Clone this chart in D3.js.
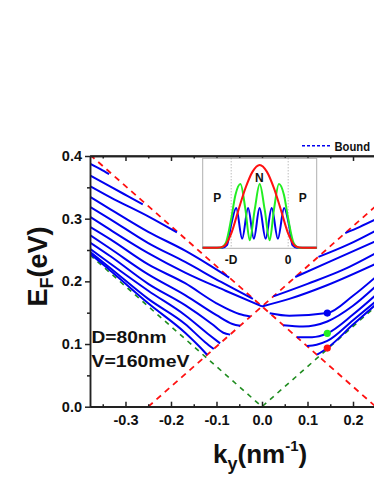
<!DOCTYPE html>
<html>
<head>
<meta charset="utf-8">
<script src="https://cdn.jsdelivr.net/npm/d3@7"></script>
<style>
body{margin:0;background:#fff;overflow:hidden;}
text{font-family:Arial,"Liberation Sans",sans-serif;}
</style>
</head>
<body>
<script>
// axis ticks (only the part of the frame that is in view)
var xTicks = [-0.3, -0.2, -0.1, 0.0, 0.1, 0.2];
var xMinor = [-0.35, -0.25, -0.15, -0.05, 0.05, 0.15, 0.25];
var yTicks = [0.0, 0.1, 0.2, 0.3, 0.4];
var yMinor = [0.05, 0.15, 0.25, 0.35];

// bound states, k<0 side  [ky, EF]
var boundLeft = [
	[[-0.378,0.388],[-0.355,0.379],[-0.336,0.371]],
	[[-0.378,0.369],[-0.333,0.351],[-0.295,0.336],[-0.262,0.323]],
	[[-0.378,0.352],[-0.333,0.334],[-0.246,0.302],[-0.187,0.278]],
	[[-0.378,0.335],[-0.333,0.315],[-0.25,0.279],[-0.169,0.249],[-0.12,0.228],[-0.072,0.206]],
	[[-0.378,0.319],[-0.333,0.299],[-0.25,0.261],[-0.169,0.231],[-0.09,0.199],[-0.02,0.172]],
	[[-0.378,0.303],[-0.333,0.282],[-0.25,0.245],[-0.169,0.214],[-0.08,0.185],[0,0.16]],
	[[-0.378,0.287],[-0.333,0.267],[-0.25,0.227],[-0.169,0.197],[-0.1,0.165],[-0.05,0.148],[-0.026,0.144]],
	[[-0.378,0.274],[-0.333,0.252],[-0.25,0.211],[-0.169,0.178],[-0.1,0.146],[-0.065,0.132],[-0.048,0.129]],
	[[-0.378,0.262],[-0.333,0.240],[-0.25,0.196],[-0.169,0.162],[-0.11,0.132],[-0.085,0.118],[-0.07,0.115]],
	[[-0.378,0.252],[-0.333,0.228],[-0.25,0.185],[-0.169,0.146],[-0.115,0.114],[-0.092,0.101]],
	[[-0.378,0.247],[-0.333,0.221],[-0.25,0.172],[-0.169,0.132],[-0.125,0.103],[-0.106,0.092]],
	[[-0.378,0.244],[-0.333,0.217],[-0.25,0.165],[-0.169,0.118],[-0.135,0.094],[-0.121,0.083]]
];

// bound states, k>0 side
var boundRight = [
	[[0.183,0.277],[0.215,0.287],[0.25,0.299]],
	[[0.124,0.239],[0.19,0.259],[0.25,0.281]],
	[[0.073,0.207],[0.15,0.232],[0.25,0.264]],
	[[0.025,0.176],[0.1,0.196],[0.18,0.219],[0.25,0.245]],
	[[0,0.16],[0.06,0.172],[0.14,0.193],[0.25,0.228]],
	[[0.017,0.149],[0.06,0.145],[0.1435,0.1494],[0.2,0.177],[0.25,0.207]],
	[[0.047,0.130],[0.09,0.128],[0.1435,0.136],[0.2,0.161],[0.25,0.192]],
	[[0.077,0.111],[0.11,0.111],[0.1435,0.117],[0.2,0.147],[0.25,0.178]],
	[[0.099,0.097],[0.12,0.099],[0.1435,0.105],[0.2,0.138],[0.25,0.168]],
	[[0.121,0.083],[0.1435,0.0936],[0.2,0.131],[0.25,0.163]]
];

// continuum edges
var redEdges = [
	[[-0.378,0.402],[0.25,0]],
	[[-0.25,0],[0.378,0.402]]
];
var greenEdge = [[-0.378,0.242],[0,0],[0.378,0.242]];

// marked states at ky = 0.1435
var markK = [0.1435, 0.1435, 0.1435];
var markE = [0.1494, 0.117, 0.0936];

// inset: |psi|^2 across the junction, x in nm
var waveBlue = [[-120,0],[-92,0],[-86,0.03],[-80,0.28],[-73,0.48],[-64.6,0.11],[-56.3,0.48],[-48.2,0.11],[-40.2,0.48],
	[-31.7,0.11],[-23.2,0.48],[-14.5,0.11],[-5.7,0.48],[1,0.28],[6,0.03],[12,0],[40,0]];
var waveGreen = [[-120,0],[-95,0],[-88,0.05],[-80,0.35],[-74,0.64],[-67,0.77],[-60,0.46],[-54,0.09],[-47,0.46],
	[-40,0.77],[-33,0.46],[-26,0.09],[-20,0.46],[-13,0.77],[-6,0.64],[0,0.35],[8,0.05],[15,0],[40,0]];
var waveRed = [[-120,0],[-100,0],[-90,0.02],[-80,0.17],[-70,0.45],[-60,0.72],[-50,0.92],[-40,1.0],
	[-30,0.92],[-20,0.72],[-10,0.45],[0,0.17],[10,0.02],[20,0],[40,0]];

var W = 374, H = 484;
var fmt = d3.formatLocale({decimal:'.', thousands:',', grouping:[3], currency:['',''], minus:'-'}).format('.1f');

var svg = d3.select('body').append('svg')
	.attr('width', W)
	.attr('height', H)
	.style('background', '#fff');

var x = d3.scaleLinear().domain([-0.378, 0.378]).range([90, 434]);
var y = d3.scaleLinear().domain([0, 0.4]).range([406.7, 156]);

svg.append('clipPath').attr('id', 'plotclip')
	.append('rect').attr('x', 90).attr('y', 156).attr('width', 344).attr('height', 250.7);

var plot = svg.append('g').attr('clip-path', 'url(#plotclip)');

var line = d3.line()
	.x(function(d){ return x(d[0]); })
	.y(function(d){ return y(d[1]); });
var smooth = d3.line()
	.x(function(d){ return x(d[0]); })
	.y(function(d){ return y(d[1]); })
	.curve(d3.curveMonotoneX);

plot.append('path')
	.attr('d', line(greenEdge))
	.attr('fill', 'none')
	.attr('stroke', '#1f8c1f')
	.attr('stroke-width', 1.6)
	.attr('stroke-dasharray', '5,5');

plot.selectAll('path.red')
	.data(redEdges)
	.enter()
	.append('path')
	.attr('class', 'red')
	.attr('d', line)
	.attr('fill', 'none')
	.attr('stroke', '#ff1010')
	.attr('stroke-width', 1.8)
	.attr('stroke-dasharray', '6,5');

plot.selectAll('path.bound')
	.data(boundLeft.concat(boundRight))
	.enter()
	.append('path')
	.attr('class', 'bound')
	.attr('d', smooth)
	.attr('fill', 'none')
	.attr('stroke', '#0000f0')
	.attr('stroke-width', 2);

var dotColors = ['#0000f0', '#22ee22', '#ff1010'];
plot.selectAll('circle')
	.data(markK)
	.enter()
	.append('circle')
	.attr('cx', function(d){ return x(d); })
	.attr('cy', function(d, i){ return y(markE[i]); })
	.attr('r', 3.6)
	.attr('fill', function(d, i){ return dotColors[i]; });

// axes
function styleAxis(g){
	g.selectAll('path, line').attr('stroke', '#222').attr('stroke-width', 1.5);
	g.selectAll('text')
		.attr('fill', '#111')
		.style('font-size', '14.5px')
		.style('font-weight', 'bold')
		.style('font-family', 'Arial, "Liberation Sans", sans-serif');
}

// frame lines run past the window edge, like the reference crop
svg.append('line').attr('x1', 90).attr('x2', 434).attr('y1', 406.7).attr('y2', 406.7)
	.attr('stroke', '#222').attr('stroke-width', 1.5);
svg.append('line').attr('x1', 90).attr('x2', 434).attr('y1', 156).attr('y2', 156)
	.attr('stroke', '#222').attr('stroke-width', 1.5);

svg.append('g')
	.attr('transform', 'translate(0,406.7)')
	.call(d3.axisBottom(x).tickValues(xTicks).tickSizeInner(-5).tickSizeOuter(0).tickPadding(8.5).tickFormat(fmt))
	.call(styleAxis);
svg.append('g')
	.attr('transform', 'translate(0,406.7)')
	.call(d3.axisBottom(x).tickValues(xMinor).tickSizeInner(-2.5).tickSizeOuter(0).tickFormat(''))
	.call(styleAxis);
svg.append('g')
	.attr('transform', 'translate(0,156)')
	.call(d3.axisTop(x).tickValues(xTicks).tickSizeInner(-5).tickSizeOuter(0).tickFormat(''))
	.call(styleAxis);
svg.append('g')
	.attr('transform', 'translate(0,156)')
	.call(d3.axisTop(x).tickValues(xMinor).tickSizeInner(-2.5).tickSizeOuter(0).tickFormat(''))
	.call(styleAxis);
svg.append('g')
	.attr('transform', 'translate(90,0)')
	.call(d3.axisLeft(y).tickValues(yTicks).tickSizeInner(5).tickSizeOuter(0).tickPadding(3).tickFormat(fmt))
	.call(styleAxis);
svg.append('g')
	.attr('transform', 'translate(90,0)')
	.call(d3.axisLeft(y).tickValues(yMinor).tickSizeInner(3).tickSizeOuter(0).tickFormat(''))
	.call(styleAxis);

// axis titles
var yt = svg.append('text')
	.attr('transform', 'translate(47,266.5) rotate(-90)')
	.attr('text-anchor', 'middle')
	.style('font-size', '27px')
	.style('font-weight', 'bold')
	.attr('fill', '#111');
yt.append('tspan').text('E');
yt.append('tspan').attr('dy', 6).style('font-size', '18px').text('F');
yt.append('tspan').attr('dy', -6).text('(eV)');

var xt = svg.append('text')
	.attr('x', 213)
	.attr('y', 463)
	.style('font-size', '26px')
	.style('font-weight', 'bold')
	.attr('fill', '#111');
xt.append('tspan').text('k');
xt.append('tspan').attr('dy', 7).style('font-size', '18px').text('y');
xt.append('tspan').attr('dy', -7).text('(nm');
xt.append('tspan').attr('dy', -12).style('font-size', '15px').text('-1');
xt.append('tspan').attr('dy', 12).text(')');

// parameters
svg.append('text').attr('x', 91.5).attr('y', 343.3)
	.attr('textLength', 75).attr('lengthAdjust', 'spacingAndGlyphs')
	.style('font-size', '17px').style('font-weight', 'bold').attr('fill', '#111').text('D=80nm');
svg.append('text').attr('x', 91.5).attr('y', 366.7)
	.attr('textLength', 98).attr('lengthAdjust', 'spacingAndGlyphs')
	.style('font-size', '17px').style('font-weight', 'bold').attr('fill', '#111').text('V=160meV');

// legend
svg.append('line')
	.attr('x1', 302).attr('x2', 330.5).attr('y1', 145.7).attr('y2', 145.7)
	.attr('stroke', '#0000f0').attr('stroke-width', 1.5).attr('stroke-dasharray', '3,2');
svg.append('text').attr('x', 334.5).attr('y', 150.5)
	.attr('textLength', 35.5).attr('lengthAdjust', 'spacingAndGlyphs')
	.style('font-size', '12.5px').style('font-weight', 'bold').attr('fill', '#111')
	.text('Bound');

// inset
var ix = d3.scaleLinear().domain([-120, 40]).range([202.7, 316.7]);
var iy = d3.scaleLinear().domain([0, 1]).range([247.7, 165]);
var inset = svg.append('g');
inset.append('rect')
	.attr('x', 202.7).attr('y', 158.3).attr('width', 114).attr('height', 90)
	.attr('fill', '#fff').attr('stroke', '#b0b0b0').attr('stroke-width', 1);
inset.selectAll('line.edge')
	.data([-80, 0])
	.enter()
	.append('line')
	.attr('class', 'edge')
	.attr('x1', function(d){ return ix(d); })
	.attr('x2', function(d){ return ix(d); })
	.attr('y1', 158.3).attr('y2', 248.3)
	.attr('stroke', '#888').attr('stroke-width', 0.8).attr('stroke-dasharray', '1,2');

var wave = d3.line()
	.x(function(d){ return ix(d[0]); })
	.y(function(d){ return iy(d[1]); })
	.curve(d3.curveMonotoneX);
var waves = [waveBlue, waveGreen, waveRed];
var waveColors = ['#0000f0', '#22ee22', '#ff1010'];
inset.selectAll('path.wave')
	.data(waves)
	.enter()
	.append('path')
	.attr('class', 'wave')
	.attr('d', wave)
	.attr('fill', 'none')
	.attr('stroke', function(d, i){ return waveColors[i]; })
	.attr('stroke-width', 2);

function insetLabel(px, py, s){
	inset.append('text').attr('x', px).attr('y', py)
		.attr('text-anchor', 'middle')
		.style('font-size', '12px').style('font-weight', 'bold').attr('fill', '#111')
		.text(s);
}
insetLabel(217.3, 201.7, 'P');
insetLabel(259.3, 182.3, 'N');
insetLabel(302.7, 201.7, 'P');
insetLabel(ix(-80), 263.5, '-D');
insetLabel(ix(0), 263.5, '0');
</script>
</body>
</html>
